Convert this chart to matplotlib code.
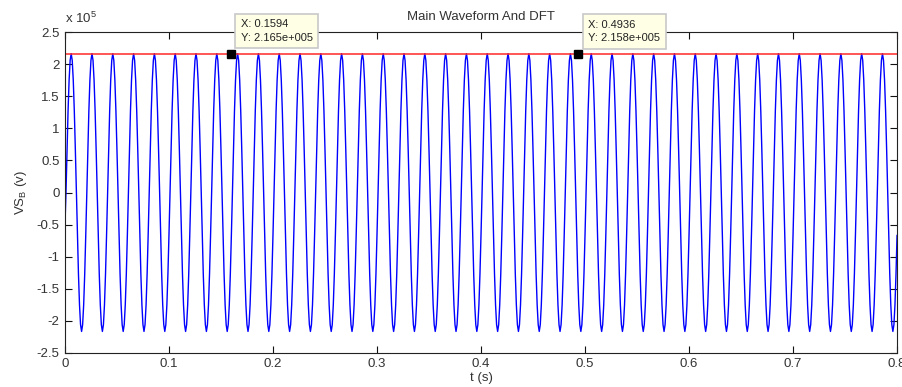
import numpy as np
import matplotlib.pyplot as plt
from matplotlib.ticker import FuncFormatter

dt = 0.001
t_start = 0.001
n_cycles = 40
# one 50 Hz cycle, starting at the upward zero crossing (x 1e5 V)
cycle_vals = [0.0, 0.669, 1.273, 1.751, 2.059, 2.165, 2.059, 1.751, 1.273, 0.669,
              0.0, -0.669, -1.273, -1.751, -2.059, -2.165, -2.059, -1.751, -1.273, -0.669]
# start-up samples at t = 0
startup_vals = [-1.1, 0.77, -0.52]

# DFT magnitude line and data tips
dft_t = [0.0, 0.8]
dft_mag = [2.165e5, 2.165e5]
tip_x = [0.1594, 0.4936]
tip_y = [2.165e5, 2.158e5]
tip_labels = ["X: 0.1594\nY: 2.165e+005", "X: 0.4936\nY: 2.158e+005"]

x_ticks = [0, 0.1, 0.2, 0.3, 0.4, 0.5, 0.6, 0.7, 0.8]
y_ticks = [-2.5, -2, -1.5, -1, -0.5, 0, 0.5, 1, 1.5, 2, 2.5]

wave = np.tile(np.array(cycle_vals) * 1e5, n_cycles)
t_wave = t_start + np.arange(len(wave)) * dt
t_all = np.concatenate([np.zeros(len(startup_vals)), t_wave])
v_all = np.concatenate([np.array(startup_vals) * 1e5, wave])

plt.rcParams['font.family'] = ['Liberation Sans', 'DejaVu Sans']

fig = plt.figure(figsize=(9.02, 3.87), dpi=100)
ax = fig.add_axes([0.072, 0.088, 0.9225, 0.829])

ax.plot(t_all, v_all, color='#0000ff', linewidth=1.0)
ax.plot(dft_t, dft_mag, color='#ff2828', linewidth=1.1)

ax.set_xlim(0, 0.8)
ax.set_ylim(-2.5e5, 2.5e5)
ax.set_xticks(x_ticks)
ax.set_yticks([v * 1e5 for v in y_ticks])
ax.xaxis.set_major_formatter(FuncFormatter(lambda v, p: f"{v:g}"))
ax.yaxis.set_major_formatter(FuncFormatter(lambda v, p: f"{v / 1e5:g}"))
ax.tick_params(direction='in', length=5, width=0.8, labelsize=9.5,
               colors='#111111', labelcolor='#333333',
               top=True, right=True, pad=4)
for s in ax.spines.values():
    s.set_linewidth(0.8)
    s.set_color('#222222')

ax.set_title("Main Waveform And DFT", fontsize=9.5, color='#333333', pad=9)
ax.set_xlabel("t (s)", fontsize=9.5, color='#333333', labelpad=1)
ax.set_ylabel("VS$_\\mathregular{B}$ (v)", fontsize=9.5, color='#333333', labelpad=5)
ax.text(0.0, 1.02, "x 10$^\\mathregular{5}$", transform=ax.transAxes,
        fontsize=9.5, color='#333333', ha='left', va='bottom')

# data tips
for x, y, lab in zip(tip_x, tip_y, tip_labels):
    ax.plot([x], [y], marker='s', markersize=6, color='black', zorder=5)
    ax.annotate(lab, xy=(x, y), xytext=(10, 11), textcoords='offset pixels',
                ha='left', va='bottom', fontsize=8, color='#222222',
                linespacing=1.4, annotation_clip=False,
                bbox=dict(boxstyle='square,pad=0.5', fc='#ffffe6', ec='#c8c8c8', lw=1.2),
                zorder=6)

fig.savefig("out.png", dpi=100)
